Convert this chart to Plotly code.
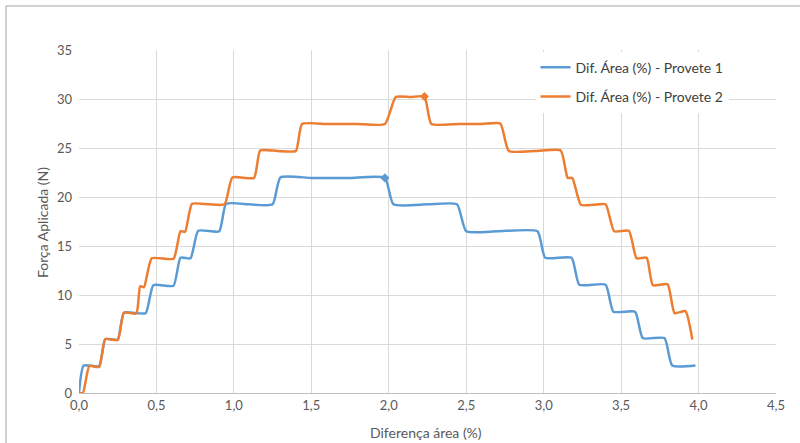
import plotly.graph_objects as go

# Provete 1: area difference (%) vs applied force (N)
dif_area_p1 = [0, 0.03, 0.13, 0.17, 0.25, 0.29, 0.43, 0.48, 0.61, 0.655, 0.72, 0.77,
               0.905, 0.95, 1.10, 1.25, 1.30, 1.50, 1.75, 1.975, 2.03, 2.25, 2.44, 2.50,
               2.70, 2.96, 3.01, 3.18, 3.23, 3.40, 3.45, 3.59, 3.64, 3.78, 3.83, 3.98]
forca_p1 = [0, 2.8, 2.75, 5.5, 5.45, 8.2, 8.15, 11.0, 10.95, 13.8, 13.75, 16.55,
            16.5, 19.3, 19.25, 19.25, 22.0, 21.95, 21.95, 21.95, 19.25, 19.25, 19.25, 16.5,
            16.5, 16.5, 13.8, 13.8, 11.05, 11.05, 8.3, 8.3, 5.6, 5.6, 2.8, 2.8]

# Provete 2
dif_area_p2 = [0, 0.025, 0.067, 0.13, 0.17, 0.25, 0.29, 0.37, 0.395, 0.42, 0.47, 0.61,
               0.655, 0.685, 0.73, 0.84, 0.94, 0.99, 1.13, 1.17, 1.28, 1.40, 1.44, 1.60,
               1.80, 1.975, 2.045, 2.14, 2.23, 2.275, 2.45, 2.60, 2.72, 2.775, 2.95, 3.11,
               3.155, 3.185, 3.24, 3.32, 3.40, 3.455, 3.55, 3.60, 3.665, 3.705, 3.80, 3.845,
               3.915, 3.96]
forca_p2 = [0, 0, 2.75, 2.65, 5.5, 5.4, 8.2, 8.1, 10.9, 10.8, 13.75, 13.7,
            16.5, 16.45, 19.3, 19.25, 19.25, 22.0, 21.95, 24.75, 24.7, 24.7, 27.45, 27.45,
            27.45, 27.45, 30.2, 30.2, 30.25, 27.45, 27.45, 27.45, 27.5, 24.7, 24.7, 24.75,
            21.95, 21.95, 19.2, 19.2, 19.25, 16.5, 16.55, 13.75, 13.8, 11.0, 11.1, 8.15,
            8.35, 5.45]

# points highlighted at the end of the peak plateau of each series
peak_idx_p1 = 19
peak_idx_p2 = 28

x_ticks = [0, 0.5, 1.0, 1.5, 2.0, 2.5, 3.0, 3.5, 4.0, 4.5]
y_ticks = [0, 5, 10, 15, 20, 25, 30, 35]

x_title = "Diferença área (%)"
y_title = "Força Aplicada (N)"

BLUE = "#5B9BD5"
ORANGE = "#ED7D31"
FONT = "Lato"

fig = go.Figure()
fig.add_trace(go.Scatter(
    x=dif_area_p1, y=forca_p1, mode="lines",
    line=dict(color=BLUE, width=2.5, shape="spline", smoothing=0.5),
    name="Dif. Área (%) - Provete 1", legendgroup="p1"))
fig.add_trace(go.Scatter(
    x=dif_area_p2, y=forca_p2, mode="lines",
    line=dict(color=ORANGE, width=2.5, shape="spline", smoothing=0.5),
    name="Dif. Área (%) - Provete 2", legendgroup="p2"))
fig.add_trace(go.Scatter(
    x=[dif_area_p1[peak_idx_p1]], y=[forca_p1[peak_idx_p1]], mode="markers",
    marker=dict(color=BLUE, size=7, symbol="diamond"), showlegend=False, hoverinfo="skip"))
fig.add_trace(go.Scatter(
    x=[dif_area_p2[peak_idx_p2]], y=[forca_p2[peak_idx_p2]], mode="markers",
    marker=dict(color=ORANGE, size=7, symbol="diamond"), showlegend=False, hoverinfo="skip"))

axis_font = dict(family=FONT, size=13, color="#595959")
title_font = dict(family=FONT, size=14, color="#595959")

fig.update_layout(
    width=800, height=443,
    margin=dict(l=79, r=24, t=50, b=50),
    paper_bgcolor="white", plot_bgcolor="white",
    separators=",.",
    font=dict(family=FONT, color="#595959"),
    showlegend=True,
    legend=dict(
        x=0.655, y=0.995, xanchor="left", yanchor="top",
        bgcolor="white", borderwidth=0,
        font=dict(family=FONT, size=14, color="#404040"),
        tracegroupgap=8,
    ),
    xaxis=dict(
        range=[0, 4.5], tickvals=x_ticks, tickformat=".1f", automargin=False,
        showgrid=True, gridcolor="#d9d9d9", gridwidth=1,
        zeroline=False, showline=True, linecolor="#bfbfbf", linewidth=1,
        ticks="", tickfont=axis_font,
    ),
    yaxis=dict(
        range=[0, 35], tickvals=y_ticks, automargin=False,
        showgrid=True, gridcolor="#d9d9d9", gridwidth=1,
        zeroline=False, showline=False,
        ticks="", tickfont=axis_font, ticklabelstandoff=6,
    ),
    annotations=[
        dict(text=x_title, xref="paper", yref="paper", x=0.498, y=-0.1166,
             xanchor="center", yanchor="middle", showarrow=False, font=title_font),
        dict(text=y_title, xref="paper", yref="paper", x=-0.0531, y=0.4985,
             xanchor="center", yanchor="middle", showarrow=False, textangle=-90,
             font=title_font),
    ],
    shapes=[dict(
        type="rect", xref="paper", yref="paper",
        x0=-0.1047, x1=1.2, y0=-0.5, y1=1.1283,
        line=dict(color="#a6a6a6", width=1), fillcolor="rgba(0,0,0,0)", layer="above",
    )],
)

fig.write_html("out.html")
